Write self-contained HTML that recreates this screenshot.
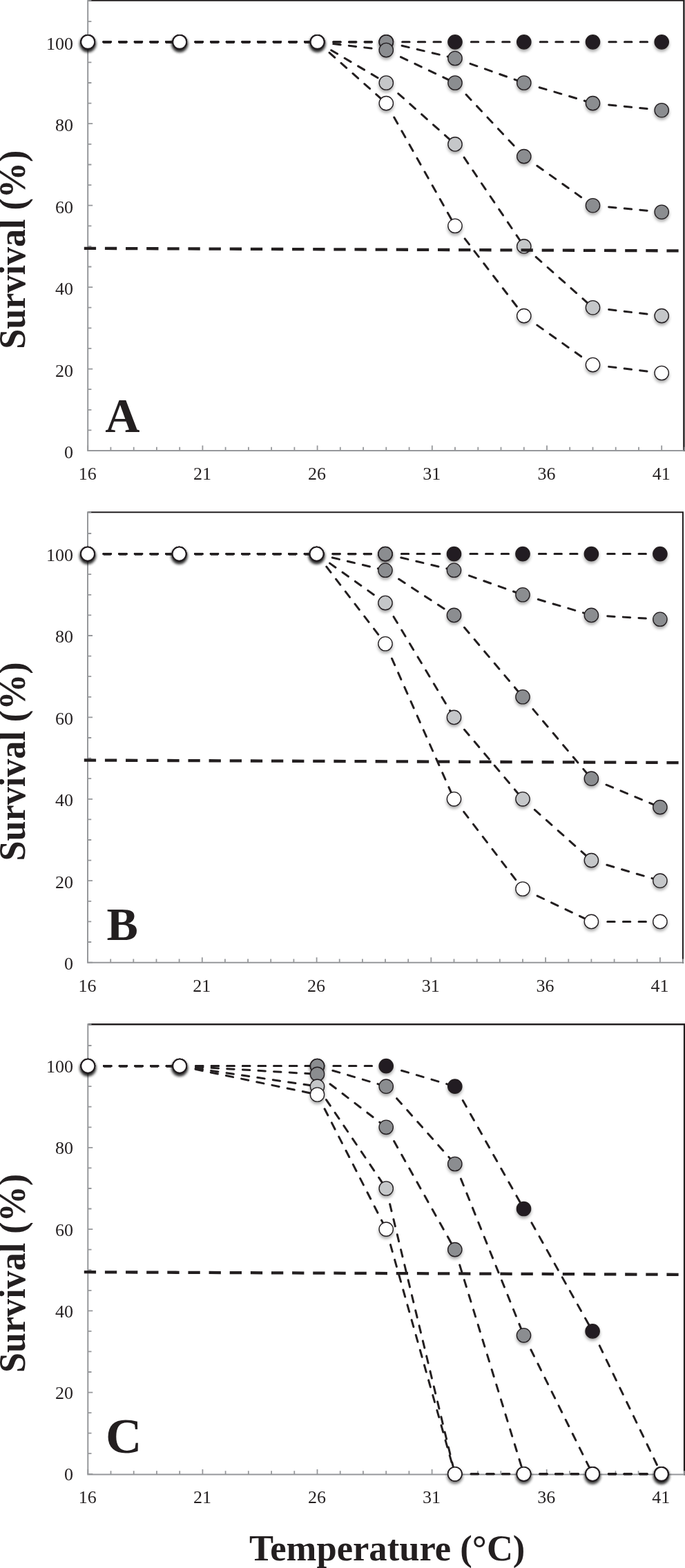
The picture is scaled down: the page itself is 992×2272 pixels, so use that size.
<!DOCTYPE html>
<html><head><meta charset="utf-8"><title>Survival vs Temperature</title>
<style>
html,body{margin:0;padding:0;background:#fff;}
body{width:992px;height:2272px;overflow:hidden;}
svg{display:block;}
text{font-family:"Liberation Serif",serif;fill:#231f20;}
.tk{font-size:26px;}
.b{font-weight:bold;}
</style></head><body>
<svg width="992" height="2272" viewBox="0 0 992 2272">
<defs>
<filter id="sh" x="-50%" y="-50%" width="200%" height="200%">
<feDropShadow dx="0" dy="3" stdDeviation="2.3" flood-color="#000" flood-opacity="0.34"/>
</filter>
</defs>
<rect width="992" height="2272" fill="#fff"/>

<g id="panel0">
<path d="M127.2 0.6H990.4V654.0" fill="none" stroke="#231f20" stroke-width="2.4"/>
<path d="M127.2 -0.4V653.0H990.4" fill="none" stroke="#96989b" stroke-width="2"/>
<path d="M127.2 653.0h7M127.2 623.4h5.2M127.2 593.8h5.2M127.2 564.2h5.2M127.2 534.6h7M127.2 504.9h5.2M127.2 475.3h5.2M127.2 445.7h5.2M127.2 416.1h7M127.2 386.5h5.2M127.2 356.9h5.2M127.2 327.3h5.2M127.2 297.7h7M127.2 268.1h5.2M127.2 238.5h5.2M127.2 208.9h5.2M127.2 179.2h7M127.2 149.6h5.2M127.2 120.0h5.2M127.2 90.4h5.2M127.2 60.8h7M127.2 31.2h5.2M127.2 0.6h5.2" stroke="#96989b" stroke-width="1.8" fill="none"/>
<path d="M127.2 653.0v-7.5M160.4 653.0v-5.2M193.7 653.0v-5.2M226.9 653.0v-5.2M260.2 653.0v-5.2M293.4 653.0v-7.5M326.6 653.0v-5.2M359.9 653.0v-5.2M393.1 653.0v-5.2M426.4 653.0v-5.2M459.6 653.0v-7.5M492.8 653.0v-5.2M526.1 653.0v-5.2M559.3 653.0v-5.2M592.6 653.0v-5.2M625.8 653.0v-7.5M659.0 653.0v-5.2M692.3 653.0v-5.2M725.5 653.0v-5.2M758.8 653.0v-5.2M792.0 653.0v-7.5M825.2 653.0v-5.2M858.5 653.0v-5.2M891.7 653.0v-5.2M925.0 653.0v-5.2M958.2 653.0v-7.5M991.4 653.0v-5.2" stroke="#96989b" stroke-width="1.8" fill="none"/>
<text class="tk" x="106" y="664.1" text-anchor="end">0</text>
<text class="tk" x="106" y="545.7" text-anchor="end">20</text>
<text class="tk" x="106" y="427.2" text-anchor="end">40</text>
<text class="tk" x="106" y="308.8" text-anchor="end">60</text>
<text class="tk" x="106" y="190.3" text-anchor="end">80</text>
<text class="tk" x="106" y="71.9" text-anchor="end">100</text>
<text class="tk" x="126.7" y="694.9" text-anchor="middle">16</text>
<text class="tk" x="292.9" y="694.9" text-anchor="middle">21</text>
<text class="tk" x="459.1" y="694.9" text-anchor="middle">26</text>
<text class="tk" x="625.3" y="694.9" text-anchor="middle">31</text>
<text class="tk" x="791.5" y="694.9" text-anchor="middle">36</text>
<text class="tk" x="957.7" y="694.9" text-anchor="middle">41</text>
<text class="b" font-size="54" transform="translate(35.5 361.7) rotate(-90) scale(0.965 1)" text-anchor="middle">Survival (%)</text>
<text class="b" font-size="69.5" x="152.2" y="625.7">A</text>
<path d="M140.7 60.8L260.2 60.8M273.7 60.8L459.6 60.8" fill="none" stroke="#231f20" stroke-width="3.60" stroke-dasharray="9.80 12.85" stroke-dashoffset="13.10" stroke-linecap="round"/>
<path d="M473.1 60.8L559.3 60.8" fill="none" stroke="#231f20" stroke-width="3.15" stroke-dasharray="10.25 12.40" stroke-dashoffset="12.87" stroke-linecap="round"/>
<path d="M572.8 60.8L659.0 60.8M672.5 60.8L758.8 60.8M772.3 60.8L858.5 60.8M872.0 60.8L958.2 60.8" fill="none" stroke="#231f20" stroke-width="3.00" stroke-dasharray="10.40 12.25" stroke-dashoffset="12.80" stroke-linecap="round"/>
<circle cx="127.2" cy="60.8" r="9.95" fill="#231f20" stroke="#231f20" stroke-width="1.81" filter="url(#sh)"/>
<circle cx="260.2" cy="60.8" r="9.95" fill="#231f20" stroke="#231f20" stroke-width="1.81" filter="url(#sh)"/>
<circle cx="459.6" cy="60.8" r="9.95" fill="#231f20" stroke="#231f20" stroke-width="1.81" filter="url(#sh)"/>
<circle cx="559.3" cy="60.8" r="10.10" fill="#231f20" stroke="#231f20" stroke-width="1.54" filter="url(#sh)"/>
<circle cx="659.0" cy="60.8" r="10.15" fill="#231f20" stroke="#231f20" stroke-width="1.35" filter="url(#sh)"/>
<circle cx="758.8" cy="60.8" r="10.15" fill="#231f20" stroke="#231f20" stroke-width="1.35" filter="url(#sh)"/>
<circle cx="858.5" cy="60.8" r="10.15" fill="#231f20" stroke="#231f20" stroke-width="1.35" filter="url(#sh)"/>
<circle cx="958.2" cy="60.8" r="10.15" fill="#231f20" stroke="#231f20" stroke-width="1.35" filter="url(#sh)"/>
<path d="M140.7 60.8L260.2 60.8M273.7 60.8L459.6 60.8" fill="none" stroke="#231f20" stroke-width="3.60" stroke-dasharray="9.80 12.85" stroke-dashoffset="13.10" stroke-linecap="round"/>
<path d="M473.1 60.8L559.3 60.8" fill="none" stroke="#231f20" stroke-width="3.15" stroke-dasharray="10.25 12.40" stroke-dashoffset="12.87" stroke-linecap="round"/>
<path d="M572.5 63.9L659.0 84.5M671.8 89.0L758.8 120.0M771.7 123.9L858.5 149.6M871.9 151.0L958.2 159.7" fill="none" stroke="#231f20" stroke-width="3.00" stroke-dasharray="10.40 12.25" stroke-dashoffset="12.80" stroke-linecap="round"/>
<circle cx="127.2" cy="60.8" r="9.95" fill="#8b8d90" stroke="#231f20" stroke-width="1.81" filter="url(#sh)"/>
<circle cx="260.2" cy="60.8" r="9.95" fill="#8b8d90" stroke="#231f20" stroke-width="1.81" filter="url(#sh)"/>
<circle cx="459.6" cy="60.8" r="9.95" fill="#8b8d90" stroke="#231f20" stroke-width="1.81" filter="url(#sh)"/>
<circle cx="559.3" cy="60.8" r="10.10" fill="#8b8d90" stroke="#231f20" stroke-width="1.54" filter="url(#sh)"/>
<circle cx="659.0" cy="84.5" r="10.15" fill="#8b8d90" stroke="#231f20" stroke-width="1.35" filter="url(#sh)"/>
<circle cx="758.8" cy="120.0" r="10.15" fill="#8b8d90" stroke="#231f20" stroke-width="1.35" filter="url(#sh)"/>
<circle cx="858.5" cy="149.6" r="10.15" fill="#8b8d90" stroke="#231f20" stroke-width="1.35" filter="url(#sh)"/>
<circle cx="958.2" cy="159.7" r="10.15" fill="#8b8d90" stroke="#231f20" stroke-width="1.35" filter="url(#sh)"/>
<path d="M140.7 60.8L260.2 60.8M273.7 60.8L459.6 60.8" fill="none" stroke="#231f20" stroke-width="3.60" stroke-dasharray="9.80 12.85" stroke-dashoffset="13.10" stroke-linecap="round"/>
<path d="M473.0 62.4L559.3 72.6M571.5 78.4L659.0 120.0M668.3 129.9L758.8 226.6M769.8 234.5L858.5 297.7M871.9 299.0L958.2 307.2" fill="none" stroke="#231f20" stroke-width="3.00" stroke-dasharray="10.40 12.25" stroke-dashoffset="12.80" stroke-linecap="round"/>
<circle cx="127.2" cy="60.8" r="9.95" fill="#8b8d90" stroke="#231f20" stroke-width="1.81" filter="url(#sh)"/>
<circle cx="260.2" cy="60.8" r="9.95" fill="#8b8d90" stroke="#231f20" stroke-width="1.81" filter="url(#sh)"/>
<circle cx="459.6" cy="60.8" r="9.95" fill="#8b8d90" stroke="#231f20" stroke-width="1.81" filter="url(#sh)"/>
<circle cx="559.3" cy="72.6" r="10.15" fill="#8b8d90" stroke="#231f20" stroke-width="1.35" filter="url(#sh)"/>
<circle cx="659.0" cy="120.0" r="10.15" fill="#8b8d90" stroke="#231f20" stroke-width="1.35" filter="url(#sh)"/>
<circle cx="758.8" cy="226.6" r="10.15" fill="#8b8d90" stroke="#231f20" stroke-width="1.35" filter="url(#sh)"/>
<circle cx="858.5" cy="297.7" r="10.15" fill="#8b8d90" stroke="#231f20" stroke-width="1.35" filter="url(#sh)"/>
<circle cx="958.2" cy="307.2" r="10.15" fill="#8b8d90" stroke="#231f20" stroke-width="1.35" filter="url(#sh)"/>
<path d="M140.7 60.8L260.2 60.8M273.7 60.8L459.6 60.8" fill="none" stroke="#231f20" stroke-width="3.60" stroke-dasharray="9.80 12.85" stroke-dashoffset="13.10" stroke-linecap="round"/>
<path d="M471.2 67.7L559.3 120.0M569.4 129.0L659.0 208.9M666.6 220.0L758.8 356.9M768.8 365.9L858.5 445.7M871.9 447.3L958.2 457.6" fill="none" stroke="#231f20" stroke-width="3.00" stroke-dasharray="10.40 12.25" stroke-dashoffset="12.80" stroke-linecap="round"/>
<circle cx="127.2" cy="60.8" r="9.95" fill="#c5c7c9" stroke="#231f20" stroke-width="1.81" filter="url(#sh)"/>
<circle cx="260.2" cy="60.8" r="9.95" fill="#c5c7c9" stroke="#231f20" stroke-width="1.81" filter="url(#sh)"/>
<circle cx="459.6" cy="60.8" r="9.95" fill="#c5c7c9" stroke="#231f20" stroke-width="1.81" filter="url(#sh)"/>
<circle cx="559.3" cy="120.0" r="10.15" fill="#c5c7c9" stroke="#231f20" stroke-width="1.35" filter="url(#sh)"/>
<circle cx="659.0" cy="208.9" r="10.15" fill="#c5c7c9" stroke="#231f20" stroke-width="1.35" filter="url(#sh)"/>
<circle cx="758.8" cy="356.9" r="10.15" fill="#c5c7c9" stroke="#231f20" stroke-width="1.35" filter="url(#sh)"/>
<circle cx="858.5" cy="445.7" r="10.15" fill="#c5c7c9" stroke="#231f20" stroke-width="1.35" filter="url(#sh)"/>
<circle cx="958.2" cy="457.6" r="10.15" fill="#c5c7c9" stroke="#231f20" stroke-width="1.35" filter="url(#sh)"/>
<path d="M140.7 60.8L260.2 60.8M273.7 60.8L459.6 60.8" fill="none" stroke="#231f20" stroke-width="3.60" stroke-dasharray="9.80 12.85" stroke-dashoffset="13.10" stroke-linecap="round"/>
<path d="M469.7 69.8L559.3 149.6M565.9 161.4L659.0 327.3M667.2 338.0L758.8 457.6M769.8 465.4L858.5 528.6M871.9 530.2L958.2 540.5" fill="none" stroke="#231f20" stroke-width="3.00" stroke-dasharray="10.40 12.25" stroke-dashoffset="12.80" stroke-linecap="round"/>
<circle cx="127.2" cy="60.8" r="9.95" fill="#ffffff" stroke="#231f20" stroke-width="1.81" filter="url(#sh)"/>
<circle cx="260.2" cy="60.8" r="9.95" fill="#ffffff" stroke="#231f20" stroke-width="1.81" filter="url(#sh)"/>
<circle cx="459.6" cy="60.8" r="9.95" fill="#ffffff" stroke="#231f20" stroke-width="1.81" filter="url(#sh)"/>
<circle cx="559.3" cy="149.6" r="10.15" fill="#ffffff" stroke="#231f20" stroke-width="1.35" filter="url(#sh)"/>
<circle cx="659.0" cy="327.3" r="10.15" fill="#ffffff" stroke="#231f20" stroke-width="1.35" filter="url(#sh)"/>
<circle cx="758.8" cy="457.6" r="10.15" fill="#ffffff" stroke="#231f20" stroke-width="1.35" filter="url(#sh)"/>
<circle cx="858.5" cy="528.6" r="10.15" fill="#ffffff" stroke="#231f20" stroke-width="1.35" filter="url(#sh)"/>
<circle cx="958.2" cy="540.5" r="10.15" fill="#ffffff" stroke="#231f20" stroke-width="1.35" filter="url(#sh)"/>
<path d="M121.8 359.8L982.6 363.4" stroke="#231f20" stroke-width="4.3" stroke-dasharray="17.3 12.83" fill="none"/>
</g>
<g id="panel1">
<path d="M127.0 742.3H989.0V1395.7" fill="none" stroke="#231f20" stroke-width="2.0"/>
<path d="M127.0 741.3V1394.7H989.0" fill="none" stroke="#96989b" stroke-width="2"/>
<path d="M127.0 1394.6h7M127.0 1365.0h5.2M127.0 1335.4h5.2M127.0 1305.8h5.2M127.0 1276.2h7M127.0 1246.6h5.2M127.0 1217.0h5.2M127.0 1187.4h5.2M127.0 1157.8h7M127.0 1128.2h5.2M127.0 1098.6h5.2M127.0 1069.0h5.2M127.0 1039.4h7M127.0 1009.8h5.2M127.0 980.2h5.2M127.0 950.6h5.2M127.0 921.0h7M127.0 891.4h5.2M127.0 861.8h5.2M127.0 832.2h5.2M127.0 802.6h7M127.0 773.0h5.2M127.0 742.3h5.2" stroke="#96989b" stroke-width="1.8" fill="none"/>
<path d="M127.0 1394.7v-7.5M160.2 1394.7v-5.2M193.3 1394.7v-5.2M226.5 1394.7v-5.2M259.6 1394.7v-5.2M292.8 1394.7v-7.5M325.9 1394.7v-5.2M359.1 1394.7v-5.2M392.2 1394.7v-5.2M425.4 1394.7v-5.2M458.6 1394.7v-7.5M491.7 1394.7v-5.2M524.9 1394.7v-5.2M558.0 1394.7v-5.2M591.2 1394.7v-5.2M624.3 1394.7v-7.5M657.5 1394.7v-5.2M690.7 1394.7v-5.2M723.8 1394.7v-5.2M757.0 1394.7v-5.2M790.1 1394.7v-7.5M823.3 1394.7v-5.2M856.4 1394.7v-5.2M889.6 1394.7v-5.2M922.7 1394.7v-5.2M955.9 1394.7v-7.5M989.1 1394.7v-5.2" stroke="#96989b" stroke-width="1.8" fill="none"/>
<text class="tk" x="106" y="1405.0" text-anchor="end">0</text>
<text class="tk" x="106" y="1286.6" text-anchor="end">20</text>
<text class="tk" x="106" y="1168.2" text-anchor="end">40</text>
<text class="tk" x="106" y="1049.8" text-anchor="end">60</text>
<text class="tk" x="106" y="931.4" text-anchor="end">80</text>
<text class="tk" x="106" y="813.0" text-anchor="end">100</text>
<text class="tk" x="126.5" y="1436.6" text-anchor="middle">16</text>
<text class="tk" x="292.3" y="1436.6" text-anchor="middle">21</text>
<text class="tk" x="458.1" y="1436.6" text-anchor="middle">26</text>
<text class="tk" x="623.8" y="1436.6" text-anchor="middle">31</text>
<text class="tk" x="789.6" y="1436.6" text-anchor="middle">36</text>
<text class="tk" x="955.4" y="1436.6" text-anchor="middle">41</text>
<text class="b" font-size="54" transform="translate(35.5 1103.4) rotate(-90) scale(0.965 1)" text-anchor="middle">Survival (%)</text>
<text class="b" font-size="68" x="154.6" y="1362">B</text>
<path d="M140.5 802.6L259.6 802.6M273.1 802.6L458.6 802.6" fill="none" stroke="#231f20" stroke-width="3.32" stroke-dasharray="10.08 12.57" stroke-dashoffset="12.96" stroke-linecap="round"/>
<path d="M472.1 802.6L558.0 802.6" fill="none" stroke="#231f20" stroke-width="3.08" stroke-dasharray="10.32 12.33" stroke-dashoffset="12.84" stroke-linecap="round"/>
<path d="M571.5 802.6L657.5 802.6M671.0 802.6L757.0 802.6M770.5 802.6L856.4 802.6M869.9 802.6L955.9 802.6" fill="none" stroke="#231f20" stroke-width="3.00" stroke-dasharray="10.40 12.25" stroke-dashoffset="12.80" stroke-linecap="round"/>
<circle cx="127.0" cy="802.6" r="9.95" fill="#231f20" stroke="#231f20" stroke-width="1.81" filter="url(#sh)"/>
<circle cx="259.6" cy="802.6" r="9.95" fill="#231f20" stroke="#231f20" stroke-width="1.81" filter="url(#sh)"/>
<circle cx="458.6" cy="802.6" r="9.95" fill="#231f20" stroke="#231f20" stroke-width="1.81" filter="url(#sh)"/>
<circle cx="558.0" cy="802.6" r="10.10" fill="#231f20" stroke="#231f20" stroke-width="1.54" filter="url(#sh)"/>
<circle cx="657.5" cy="802.6" r="10.15" fill="#231f20" stroke="#231f20" stroke-width="1.35" filter="url(#sh)"/>
<circle cx="757.0" cy="802.6" r="10.15" fill="#231f20" stroke="#231f20" stroke-width="1.35" filter="url(#sh)"/>
<circle cx="856.4" cy="802.6" r="10.15" fill="#231f20" stroke="#231f20" stroke-width="1.35" filter="url(#sh)"/>
<circle cx="955.9" cy="802.6" r="10.15" fill="#231f20" stroke="#231f20" stroke-width="1.35" filter="url(#sh)"/>
<path d="M140.5 802.6L259.6 802.6M273.1 802.6L458.6 802.6" fill="none" stroke="#231f20" stroke-width="3.32" stroke-dasharray="10.08 12.57" stroke-dashoffset="12.96" stroke-linecap="round"/>
<path d="M472.1 802.6L558.0 802.6" fill="none" stroke="#231f20" stroke-width="3.08" stroke-dasharray="10.32 12.33" stroke-dashoffset="12.84" stroke-linecap="round"/>
<path d="M571.2 805.7L657.5 826.3M670.2 830.8L757.0 861.8M769.9 865.7L856.4 891.4M869.9 892.2L955.9 897.3" fill="none" stroke="#231f20" stroke-width="3.00" stroke-dasharray="10.40 12.25" stroke-dashoffset="12.80" stroke-linecap="round"/>
<circle cx="127.0" cy="802.6" r="9.95" fill="#8b8d90" stroke="#231f20" stroke-width="1.81" filter="url(#sh)"/>
<circle cx="259.6" cy="802.6" r="9.95" fill="#8b8d90" stroke="#231f20" stroke-width="1.81" filter="url(#sh)"/>
<circle cx="458.6" cy="802.6" r="9.95" fill="#8b8d90" stroke="#231f20" stroke-width="1.81" filter="url(#sh)"/>
<circle cx="558.0" cy="802.6" r="10.10" fill="#8b8d90" stroke="#231f20" stroke-width="1.54" filter="url(#sh)"/>
<circle cx="657.5" cy="826.3" r="10.15" fill="#8b8d90" stroke="#231f20" stroke-width="1.35" filter="url(#sh)"/>
<circle cx="757.0" cy="861.8" r="10.15" fill="#8b8d90" stroke="#231f20" stroke-width="1.35" filter="url(#sh)"/>
<circle cx="856.4" cy="891.4" r="10.15" fill="#8b8d90" stroke="#231f20" stroke-width="1.35" filter="url(#sh)"/>
<circle cx="955.9" cy="897.3" r="10.15" fill="#8b8d90" stroke="#231f20" stroke-width="1.35" filter="url(#sh)"/>
<path d="M140.5 802.6L259.6 802.6M273.1 802.6L458.6 802.6" fill="none" stroke="#231f20" stroke-width="3.32" stroke-dasharray="10.08 12.57" stroke-dashoffset="12.96" stroke-linecap="round"/>
<path d="M471.7 805.7L558.0 826.3M569.3 833.7L657.5 891.4M666.2 901.7L757.0 1009.8M765.6 1020.1L856.4 1128.2M868.9 1133.4L955.9 1169.6" fill="none" stroke="#231f20" stroke-width="3.00" stroke-dasharray="10.40 12.25" stroke-dashoffset="12.80" stroke-linecap="round"/>
<circle cx="127.0" cy="802.6" r="9.95" fill="#8b8d90" stroke="#231f20" stroke-width="1.81" filter="url(#sh)"/>
<circle cx="259.6" cy="802.6" r="9.95" fill="#8b8d90" stroke="#231f20" stroke-width="1.81" filter="url(#sh)"/>
<circle cx="458.6" cy="802.6" r="9.95" fill="#8b8d90" stroke="#231f20" stroke-width="1.81" filter="url(#sh)"/>
<circle cx="558.0" cy="826.3" r="10.15" fill="#8b8d90" stroke="#231f20" stroke-width="1.35" filter="url(#sh)"/>
<circle cx="657.5" cy="891.4" r="10.15" fill="#8b8d90" stroke="#231f20" stroke-width="1.35" filter="url(#sh)"/>
<circle cx="757.0" cy="1009.8" r="10.15" fill="#8b8d90" stroke="#231f20" stroke-width="1.35" filter="url(#sh)"/>
<circle cx="856.4" cy="1128.2" r="10.15" fill="#8b8d90" stroke="#231f20" stroke-width="1.35" filter="url(#sh)"/>
<circle cx="955.9" cy="1169.6" r="10.15" fill="#8b8d90" stroke="#231f20" stroke-width="1.35" filter="url(#sh)"/>
<path d="M140.5 802.6L259.6 802.6M273.1 802.6L458.6 802.6" fill="none" stroke="#231f20" stroke-width="3.32" stroke-dasharray="10.08 12.57" stroke-dashoffset="12.96" stroke-linecap="round"/>
<path d="M469.5 810.4L558.0 873.6M565.0 885.2L657.5 1039.4M666.2 1049.7L757.0 1157.8M767.0 1166.8L856.4 1246.6M869.4 1250.5L955.9 1276.2" fill="none" stroke="#231f20" stroke-width="3.00" stroke-dasharray="10.40 12.25" stroke-dashoffset="12.80" stroke-linecap="round"/>
<circle cx="127.0" cy="802.6" r="9.95" fill="#c5c7c9" stroke="#231f20" stroke-width="1.81" filter="url(#sh)"/>
<circle cx="259.6" cy="802.6" r="9.95" fill="#c5c7c9" stroke="#231f20" stroke-width="1.81" filter="url(#sh)"/>
<circle cx="458.6" cy="802.6" r="9.95" fill="#c5c7c9" stroke="#231f20" stroke-width="1.81" filter="url(#sh)"/>
<circle cx="558.0" cy="873.6" r="10.15" fill="#c5c7c9" stroke="#231f20" stroke-width="1.35" filter="url(#sh)"/>
<circle cx="657.5" cy="1039.4" r="10.15" fill="#c5c7c9" stroke="#231f20" stroke-width="1.35" filter="url(#sh)"/>
<circle cx="757.0" cy="1157.8" r="10.15" fill="#c5c7c9" stroke="#231f20" stroke-width="1.35" filter="url(#sh)"/>
<circle cx="856.4" cy="1246.6" r="10.15" fill="#c5c7c9" stroke="#231f20" stroke-width="1.35" filter="url(#sh)"/>
<circle cx="955.9" cy="1276.2" r="10.15" fill="#c5c7c9" stroke="#231f20" stroke-width="1.35" filter="url(#sh)"/>
<path d="M140.5 802.6L259.6 802.6M273.1 802.6L458.6 802.6" fill="none" stroke="#231f20" stroke-width="3.32" stroke-dasharray="10.08 12.57" stroke-dashoffset="12.96" stroke-linecap="round"/>
<path d="M466.8 813.3L558.0 932.8M563.5 945.2L657.5 1157.8M665.7 1168.5L757.0 1288.0M769.2 1293.8L856.4 1335.4M869.9 1335.4L955.9 1335.4" fill="none" stroke="#231f20" stroke-width="3.00" stroke-dasharray="10.40 12.25" stroke-dashoffset="12.80" stroke-linecap="round"/>
<circle cx="127.0" cy="802.6" r="9.95" fill="#ffffff" stroke="#231f20" stroke-width="1.81" filter="url(#sh)"/>
<circle cx="259.6" cy="802.6" r="9.95" fill="#ffffff" stroke="#231f20" stroke-width="1.81" filter="url(#sh)"/>
<circle cx="458.6" cy="802.6" r="9.95" fill="#ffffff" stroke="#231f20" stroke-width="1.81" filter="url(#sh)"/>
<circle cx="558.0" cy="932.8" r="10.15" fill="#ffffff" stroke="#231f20" stroke-width="1.35" filter="url(#sh)"/>
<circle cx="657.5" cy="1157.8" r="10.15" fill="#ffffff" stroke="#231f20" stroke-width="1.35" filter="url(#sh)"/>
<circle cx="757.0" cy="1288.0" r="10.15" fill="#ffffff" stroke="#231f20" stroke-width="1.35" filter="url(#sh)"/>
<circle cx="856.4" cy="1335.4" r="10.15" fill="#ffffff" stroke="#231f20" stroke-width="1.35" filter="url(#sh)"/>
<circle cx="955.9" cy="1335.4" r="10.15" fill="#ffffff" stroke="#231f20" stroke-width="1.35" filter="url(#sh)"/>
<path d="M121.8 1101.5L982.6 1105.1" stroke="#231f20" stroke-width="4.3" stroke-dasharray="17.3 12.83" fill="none"/>
</g>
<g id="panel2">
<path d="M127.3 1484.3H991.1V2137.5" fill="none" stroke="#231f20" stroke-width="2.4"/>
<path d="M127.3 1483.3V2136.5H991.1" fill="none" stroke="#96989b" stroke-width="2"/>
<path d="M127.3 2135.8h7M127.3 2106.2h5.2M127.3 2076.7h5.2M127.3 2047.1h5.2M127.3 2017.6h7M127.3 1988.0h5.2M127.3 1958.4h5.2M127.3 1928.9h5.2M127.3 1899.3h7M127.3 1869.8h5.2M127.3 1840.2h5.2M127.3 1810.6h5.2M127.3 1781.1h7M127.3 1751.5h5.2M127.3 1722.0h5.2M127.3 1692.4h5.2M127.3 1662.8h7M127.3 1633.3h5.2M127.3 1603.7h5.2M127.3 1574.2h5.2M127.3 1544.6h7M127.3 1515.0h5.2M127.3 1484.3h5.2" stroke="#96989b" stroke-width="1.8" fill="none"/>
<path d="M127.3 2136.5v-7.5M160.5 2136.5v-5.2M193.7 2136.5v-5.2M227.0 2136.5v-5.2M260.2 2136.5v-5.2M293.4 2136.5v-7.5M326.6 2136.5v-5.2M359.8 2136.5v-5.2M393.1 2136.5v-5.2M426.3 2136.5v-5.2M459.5 2136.5v-7.5M492.7 2136.5v-5.2M525.9 2136.5v-5.2M559.2 2136.5v-5.2M592.4 2136.5v-5.2M625.6 2136.5v-7.5M658.8 2136.5v-5.2M692.0 2136.5v-5.2M725.3 2136.5v-5.2M758.5 2136.5v-5.2M791.7 2136.5v-7.5M824.9 2136.5v-5.2M858.1 2136.5v-5.2M891.4 2136.5v-5.2M924.6 2136.5v-5.2M957.8 2136.5v-7.5M991.0 2136.5v-5.2" stroke="#96989b" stroke-width="1.8" fill="none"/>
<text class="tk" x="106" y="2145.2" text-anchor="end">0</text>
<text class="tk" x="106" y="2027.0" text-anchor="end">20</text>
<text class="tk" x="106" y="1908.7" text-anchor="end">40</text>
<text class="tk" x="106" y="1790.5" text-anchor="end">60</text>
<text class="tk" x="106" y="1672.2" text-anchor="end">80</text>
<text class="tk" x="106" y="1554.0" text-anchor="end">100</text>
<text class="tk" x="126.8" y="2178.4" text-anchor="middle">16</text>
<text class="tk" x="292.9" y="2178.4" text-anchor="middle">21</text>
<text class="tk" x="459.0" y="2178.4" text-anchor="middle">26</text>
<text class="tk" x="625.1" y="2178.4" text-anchor="middle">31</text>
<text class="tk" x="791.2" y="2178.4" text-anchor="middle">36</text>
<text class="tk" x="957.3" y="2178.4" text-anchor="middle">41</text>
<text class="b" font-size="54" transform="translate(35.5 1845.0) rotate(-90) scale(0.965 1)" text-anchor="middle">Survival (%)</text>
<text class="b" font-size="72.5" x="153.0" y="2105">C</text>
<path d="M140.8 1544.6L260.2 1544.6" fill="none" stroke="#231f20" stroke-width="3.12" stroke-dasharray="10.28 12.37" stroke-dashoffset="12.86" stroke-linecap="round"/>
<path d="M273.7 1544.6L459.5 1544.6" fill="none" stroke="#231f20" stroke-width="3.03" stroke-dasharray="10.37 12.28" stroke-dashoffset="12.81" stroke-linecap="round"/>
<path d="M473.0 1544.6L559.2 1544.6M572.1 1548.4L658.8 1574.2M665.4 1585.9L758.5 1751.5M765.1 1763.3L858.1 1928.9M864.0 1941.0L957.8 2135.8" fill="none" stroke="#231f20" stroke-width="3.00" stroke-dasharray="10.40 12.25" stroke-dashoffset="12.80" stroke-linecap="round"/>
<circle cx="127.3" cy="1544.6" r="9.95" fill="#231f20" stroke="#231f20" stroke-width="1.81" filter="url(#sh)"/>
<circle cx="260.2" cy="1544.6" r="9.95" fill="#231f20" stroke="#231f20" stroke-width="1.81" filter="url(#sh)"/>
<circle cx="459.5" cy="1544.6" r="10.10" fill="#231f20" stroke="#231f20" stroke-width="1.54" filter="url(#sh)"/>
<circle cx="559.2" cy="1544.6" r="10.15" fill="#231f20" stroke="#231f20" stroke-width="1.35" filter="url(#sh)"/>
<circle cx="658.8" cy="1574.2" r="10.15" fill="#231f20" stroke="#231f20" stroke-width="1.35" filter="url(#sh)"/>
<circle cx="758.5" cy="1751.5" r="10.15" fill="#231f20" stroke="#231f20" stroke-width="1.35" filter="url(#sh)"/>
<circle cx="858.1" cy="1928.9" r="10.15" fill="#231f20" stroke="#231f20" stroke-width="1.35" filter="url(#sh)"/>
<circle cx="957.8" cy="2135.8" r="9.95" fill="#231f20" stroke="#231f20" stroke-width="1.81" filter="url(#sh)"/>
<path d="M140.8 1544.6L260.2 1544.6" fill="none" stroke="#231f20" stroke-width="3.12" stroke-dasharray="10.28 12.37" stroke-dashoffset="12.86" stroke-linecap="round"/>
<path d="M273.7 1544.6L459.5 1544.6" fill="none" stroke="#231f20" stroke-width="3.03" stroke-dasharray="10.37 12.28" stroke-dashoffset="12.81" stroke-linecap="round"/>
<path d="M472.4 1548.4L559.2 1574.2M568.1 1584.3L658.8 1686.5M663.8 1699.0L758.5 1934.8M764.5 1946.9L858.1 2135.8" fill="none" stroke="#231f20" stroke-width="3.00" stroke-dasharray="10.40 12.25" stroke-dashoffset="12.80" stroke-linecap="round"/>
<path d="M871.6 2135.8L957.8 2135.8" fill="none" stroke="#231f20" stroke-width="3.09" stroke-dasharray="10.31 12.34" stroke-dashoffset="12.84" stroke-linecap="round"/>
<circle cx="127.3" cy="1544.6" r="9.95" fill="#8b8d90" stroke="#231f20" stroke-width="1.81" filter="url(#sh)"/>
<circle cx="260.2" cy="1544.6" r="9.95" fill="#8b8d90" stroke="#231f20" stroke-width="1.81" filter="url(#sh)"/>
<circle cx="459.5" cy="1544.6" r="10.10" fill="#8b8d90" stroke="#231f20" stroke-width="1.54" filter="url(#sh)"/>
<circle cx="559.2" cy="1574.2" r="10.15" fill="#8b8d90" stroke="#231f20" stroke-width="1.35" filter="url(#sh)"/>
<circle cx="658.8" cy="1686.5" r="10.15" fill="#8b8d90" stroke="#231f20" stroke-width="1.35" filter="url(#sh)"/>
<circle cx="758.5" cy="1934.8" r="10.15" fill="#8b8d90" stroke="#231f20" stroke-width="1.35" filter="url(#sh)"/>
<circle cx="858.1" cy="2135.8" r="10.00" fill="#8b8d90" stroke="#231f20" stroke-width="1.72" filter="url(#sh)"/>
<circle cx="957.8" cy="2135.8" r="9.95" fill="#8b8d90" stroke="#231f20" stroke-width="1.81" filter="url(#sh)"/>
<path d="M140.8 1544.6L260.2 1544.6" fill="none" stroke="#231f20" stroke-width="3.12" stroke-dasharray="10.28 12.37" stroke-dashoffset="12.86" stroke-linecap="round"/>
<path d="M273.7 1545.4L459.5 1556.4M470.2 1564.7L559.2 1633.3M565.8 1645.0L658.8 1810.6M662.8 1823.5L758.5 2135.8" fill="none" stroke="#231f20" stroke-width="3.00" stroke-dasharray="10.40 12.25" stroke-dashoffset="12.80" stroke-linecap="round"/>
<path d="M772.0 2135.8L858.1 2135.8" fill="none" stroke="#231f20" stroke-width="3.06" stroke-dasharray="10.34 12.31" stroke-dashoffset="12.83" stroke-linecap="round"/>
<path d="M871.6 2135.8L957.8 2135.8" fill="none" stroke="#231f20" stroke-width="3.09" stroke-dasharray="10.31 12.34" stroke-dashoffset="12.84" stroke-linecap="round"/>
<circle cx="127.3" cy="1544.6" r="9.95" fill="#8b8d90" stroke="#231f20" stroke-width="1.81" filter="url(#sh)"/>
<circle cx="260.2" cy="1544.6" r="9.95" fill="#8b8d90" stroke="#231f20" stroke-width="1.81" filter="url(#sh)"/>
<circle cx="459.5" cy="1556.4" r="10.15" fill="#8b8d90" stroke="#231f20" stroke-width="1.35" filter="url(#sh)"/>
<circle cx="559.2" cy="1633.3" r="10.15" fill="#8b8d90" stroke="#231f20" stroke-width="1.35" filter="url(#sh)"/>
<circle cx="658.8" cy="1810.6" r="10.15" fill="#8b8d90" stroke="#231f20" stroke-width="1.35" filter="url(#sh)"/>
<circle cx="758.5" cy="2135.8" r="10.05" fill="#8b8d90" stroke="#231f20" stroke-width="1.63" filter="url(#sh)"/>
<circle cx="858.1" cy="2135.8" r="10.00" fill="#8b8d90" stroke="#231f20" stroke-width="1.72" filter="url(#sh)"/>
<circle cx="957.8" cy="2135.8" r="9.95" fill="#8b8d90" stroke="#231f20" stroke-width="1.81" filter="url(#sh)"/>
<path d="M140.8 1544.6L260.2 1544.6" fill="none" stroke="#231f20" stroke-width="3.12" stroke-dasharray="10.28 12.37" stroke-dashoffset="12.86" stroke-linecap="round"/>
<path d="M273.5 1546.6L459.5 1574.2M467.0 1585.4L559.2 1722.0M562.3 1735.1L658.8 2135.8" fill="none" stroke="#231f20" stroke-width="3.00" stroke-dasharray="10.40 12.25" stroke-dashoffset="12.80" stroke-linecap="round"/>
<path d="M672.3 2135.8L758.5 2135.8" fill="none" stroke="#231f20" stroke-width="3.03" stroke-dasharray="10.37 12.28" stroke-dashoffset="12.81" stroke-linecap="round"/>
<path d="M772.0 2135.8L858.1 2135.8" fill="none" stroke="#231f20" stroke-width="3.06" stroke-dasharray="10.34 12.31" stroke-dashoffset="12.83" stroke-linecap="round"/>
<path d="M871.6 2135.8L957.8 2135.8" fill="none" stroke="#231f20" stroke-width="3.09" stroke-dasharray="10.31 12.34" stroke-dashoffset="12.84" stroke-linecap="round"/>
<circle cx="127.3" cy="1544.6" r="9.95" fill="#c5c7c9" stroke="#231f20" stroke-width="1.81" filter="url(#sh)"/>
<circle cx="260.2" cy="1544.6" r="9.95" fill="#c5c7c9" stroke="#231f20" stroke-width="1.81" filter="url(#sh)"/>
<circle cx="459.5" cy="1574.2" r="10.15" fill="#c5c7c9" stroke="#231f20" stroke-width="1.35" filter="url(#sh)"/>
<circle cx="559.2" cy="1722.0" r="10.15" fill="#c5c7c9" stroke="#231f20" stroke-width="1.35" filter="url(#sh)"/>
<circle cx="658.8" cy="2135.8" r="10.10" fill="#c5c7c9" stroke="#231f20" stroke-width="1.54" filter="url(#sh)"/>
<circle cx="758.5" cy="2135.8" r="10.05" fill="#c5c7c9" stroke="#231f20" stroke-width="1.63" filter="url(#sh)"/>
<circle cx="858.1" cy="2135.8" r="10.00" fill="#c5c7c9" stroke="#231f20" stroke-width="1.72" filter="url(#sh)"/>
<circle cx="957.8" cy="2135.8" r="9.95" fill="#c5c7c9" stroke="#231f20" stroke-width="1.81" filter="url(#sh)"/>
<path d="M140.8 1544.6L260.2 1544.6" fill="none" stroke="#231f20" stroke-width="3.12" stroke-dasharray="10.28 12.37" stroke-dashoffset="12.86" stroke-linecap="round"/>
<path d="M273.4 1547.3L459.5 1586.0M465.6 1598.0L559.2 1781.1M562.8 1794.1L658.8 2135.8" fill="none" stroke="#231f20" stroke-width="3.00" stroke-dasharray="10.40 12.25" stroke-dashoffset="12.80" stroke-linecap="round"/>
<path d="M672.3 2135.8L758.5 2135.8" fill="none" stroke="#231f20" stroke-width="3.03" stroke-dasharray="10.37 12.28" stroke-dashoffset="12.81" stroke-linecap="round"/>
<path d="M772.0 2135.8L858.1 2135.8" fill="none" stroke="#231f20" stroke-width="3.06" stroke-dasharray="10.34 12.31" stroke-dashoffset="12.83" stroke-linecap="round"/>
<path d="M871.6 2135.8L957.8 2135.8" fill="none" stroke="#231f20" stroke-width="3.09" stroke-dasharray="10.31 12.34" stroke-dashoffset="12.84" stroke-linecap="round"/>
<circle cx="127.3" cy="1544.6" r="9.95" fill="#ffffff" stroke="#231f20" stroke-width="1.81" filter="url(#sh)"/>
<circle cx="260.2" cy="1544.6" r="9.95" fill="#ffffff" stroke="#231f20" stroke-width="1.81" filter="url(#sh)"/>
<circle cx="459.5" cy="1586.0" r="10.15" fill="#ffffff" stroke="#231f20" stroke-width="1.35" filter="url(#sh)"/>
<circle cx="559.2" cy="1781.1" r="10.15" fill="#ffffff" stroke="#231f20" stroke-width="1.35" filter="url(#sh)"/>
<circle cx="658.8" cy="2135.8" r="10.10" fill="#ffffff" stroke="#231f20" stroke-width="1.54" filter="url(#sh)"/>
<circle cx="758.5" cy="2135.8" r="10.05" fill="#ffffff" stroke="#231f20" stroke-width="1.63" filter="url(#sh)"/>
<circle cx="858.1" cy="2135.8" r="10.00" fill="#ffffff" stroke="#231f20" stroke-width="1.72" filter="url(#sh)"/>
<circle cx="957.8" cy="2135.8" r="9.95" fill="#ffffff" stroke="#231f20" stroke-width="1.81" filter="url(#sh)"/>
<path d="M121.8 1843.2L982.6 1846.8" stroke="#231f20" stroke-width="4.3" stroke-dasharray="17.3 12.83" fill="none"/>
</g>
<text class="b" font-size="53" transform="translate(361.0 2261.3) scale(0.9926 1)">Temperature (°C)</text>
</svg></body></html>
